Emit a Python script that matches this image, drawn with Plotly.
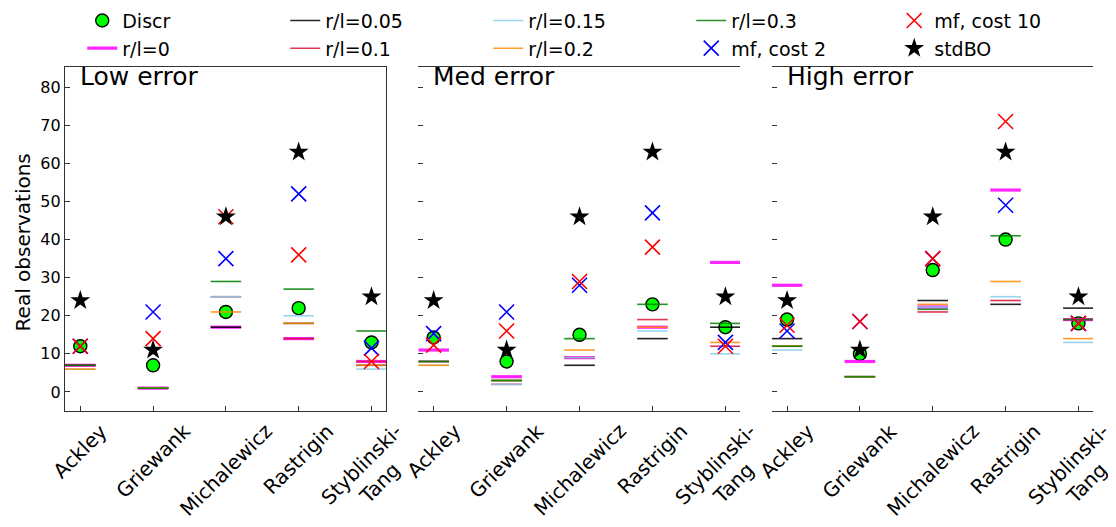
import plotly.graph_objects as go

# ---------------- data ----------------
categories = ["Ackley", "Griewank", "Michalewicz", "Rastrigin", "Styblinski-<br>Tang"]
panels = ["Low error", "Med error", "High error"]
y_ticks = [0, 10, 20, 30, 40, 50, 60, 70, 80]
y_title = "Real observations"

# each list: [low error values, med error values, high error values]
discr = [[12, 7, 21, 22, 13], [14.3, 8, 15, 23, 17], [19, 10, 32, 40, 18]]
rl_0 = [[7, 1, 17, 14, 8], [11, 4, 9, 17, 34], [28, 8, 22.3, 53, 19]]
rl_005 = [[7, 1, 17, 18, 7], [8, 3, 7, 14, 17], [14, 4, 24, 23, 22]]
rl_01 = [[7, 1, 25, 14, 8], [8, 2, 9, 19, 12], [12, 4, 21, 24, 19]]
rl_015 = [[6, 1, 25, 20, 6], [7, 2, 9, 16, 10], [11, 4, 22.3, 25, 13]]
rl_02 = [[6, 1, 21, 18, 7], [7, 3, 11, 17, 13], [12, 4, 23, 29, 14]]
rl_03 = [[7, 1, 29, 27, 16], [8, 3, 14, 23, 18], [12, 4, 21.7, 41, 19]]
mf_cost2 = [[12, 21, 35, 52, 11.5], [15.3, 21, 28, 47, 13], [16, 18.5, 35, 49, 18]]
mf_cost10 = [[12, 14, 46, 36, 8], [12.3, 16, 29, 38, 12], [17.5, 18.5, 35, 71, 18]]
std_bo = [[24, 11, 46, 63, 25], [24, 11, 46, 63, 25], [24, 11, 46, 63, 25]]

# ---------------- style ----------------
FONT = "DejaVu Sans"
HALF = 0.21
line_series = [
    ("r/l=0", rl_0, "#ff00ff", 3.2, 6),
    ("r/l=0.05", rl_005, "#000000", 1.6, 2),
    ("r/l=0.1", rl_01, "#dc143c", 1.6, 7),
    ("r/l=0.15", rl_015, "#87ceeb", 1.6, 3),
    ("r/l=0.2", rl_02, "#ff8c00", 1.6, 8),
    ("r/l=0.3", rl_03, "#008000", 1.6, 4),
]

fig = go.Figure()
xaxes = ["x", "x2", "x3"]

for p in range(3):
    xa = xaxes[p]
    first = p == 0
    idx = list(range(len(categories)))
    fig.add_trace(go.Scatter(
        x=idx, y=discr[p], mode="markers", name="Discr", legendgroup="Discr",
        showlegend=first, legendrank=1, xaxis=xa, yaxis="y",
        marker=dict(symbol="circle", size=13, color="#00ff00",
                    line=dict(color="black", width=1.4))))
    for name, vals, col, lw, rank in line_series:
        xs, ys = [], []
        for i, v in enumerate(vals[p]):
            xs += [i - HALF, i + HALF, None]
            ys += [v, v, None]
        fig.add_trace(go.Scatter(
            x=xs, y=ys, mode="lines", name=name, legendgroup=name,
            showlegend=first, legendrank=rank, xaxis=xa, yaxis="y",
            opacity=0.85, line=dict(color=col, width=lw)))
    fig.add_trace(go.Scatter(
        x=idx, y=mf_cost2[p], mode="markers", name="mf, cost 2", legendgroup="mf2",
        showlegend=first, legendrank=9, xaxis=xa, yaxis="y",
        marker=dict(symbol="x-thin", size=15, color="blue",
                    line=dict(color="blue", width=1.6))))
    fig.add_trace(go.Scatter(
        x=idx, y=mf_cost10[p], mode="markers", name="mf, cost 10", legendgroup="mf10",
        showlegend=first, legendrank=5, xaxis=xa, yaxis="y",
        marker=dict(symbol="x-thin", size=15, color="red",
                    line=dict(color="red", width=1.6))))
    fig.add_trace(go.Scatter(
        x=idx, y=std_bo[p], mode="markers", name="stdBO", legendgroup="std",
        showlegend=first, legendrank=10, xaxis=xa, yaxis="y",
        marker=dict(symbol="star", size=15, color="black",
                    line=dict(color="black", width=0))))

domains = [[0.0, 0.3123], [0.3437, 0.6566], [0.6875, 1.0]]
axis_common = dict(
    range=[-0.21, 4.2], tickvals=list(range(len(categories))), ticks="inside",
    ticklen=5, tickwidth=1.2, tickcolor="#333", showticklabels=False,
    showline=True, linecolor="#333", linewidth=1.3, mirror=True,
    showgrid=False, zeroline=False)

layout = dict(
    width=1108, height=519, plot_bgcolor="white", paper_bgcolor="white",
    margin=dict(l=57, r=23, t=59, b=116, autoexpand=False),
    font=dict(family=FONT, color="black"),
    legend=dict(orientation="h", x=0.067, xanchor="left", y=1.19, yanchor="top",
                yref="paper", xref="container",
                entrywidth=158, font=dict(size=19, family=FONT),
                traceorder="normal", bgcolor="rgba(0,0,0,0)", itemwidth=30),
    yaxis=dict(range=[-5, 85.3], tickvals=y_ticks, ticks="inside", ticklen=5,
               tickwidth=1.2, tickcolor="#333", showline=True, linecolor="#333",
               linewidth=1.3, mirror=True, showgrid=False, zeroline=False,
               side="left", tickfont=dict(size=16, family=FONT)),
)
for p, xa in enumerate(xaxes):
    key = "xaxis" if p == 0 else f"xaxis{p + 1}"
    layout[key] = dict(axis_common, domain=domains[p], anchor="y")

fig.update_layout(**layout)

fig.update_layout(
    yaxis2=dict(range=[-5, 85.3], tickvals=y_ticks, ticks="inside", ticklen=5,
                tickwidth=1.2, tickcolor="#333", showticklabels=False,
                overlaying="y", anchor="x2", showline=False, showgrid=False,
                zeroline=False),
    yaxis3=dict(range=[-5, 85.3], tickvals=y_ticks, ticks="inside", ticklen=5,
                tickwidth=1.2, tickcolor="#333", showticklabels=False,
                overlaying="y", anchor="x3", showline=False, showgrid=False,
                zeroline=False),
)
for p, ya in [(1, "y2"), (2, "y3")]:
    fig.add_trace(go.Scatter(x=[None], y=[None], xaxis=xaxes[p], yaxis=ya,
                             showlegend=False, hoverinfo="skip"))

annotations = [dict(
    text=y_title, xref="paper", yref="paper", x=-0.0409, y=0.49,
    xanchor="center", yanchor="middle", textangle=-90, showarrow=False,
    font=dict(size=20, family=FONT))]
for p in range(3):
    xa = xaxes[p]
    annotations.append(dict(
        text=panels[p], xref=f"{xa} domain", yref="y domain", x=0.04, y=1.02,
        xanchor="left", yanchor="top", showarrow=False,
        font=dict(size=25, family=FONT)))
    for i, c in enumerate(categories):
        annotations.append(dict(
            text=c, xref=xa, yref="paper", x=i, y=-0.015, xanchor="center",
            yanchor="top", textangle=-45, showarrow=False, align="center",
            font=dict(size=20, family=FONT)))
fig.update_layout(annotations=annotations)

fig.write_html("out.html")
